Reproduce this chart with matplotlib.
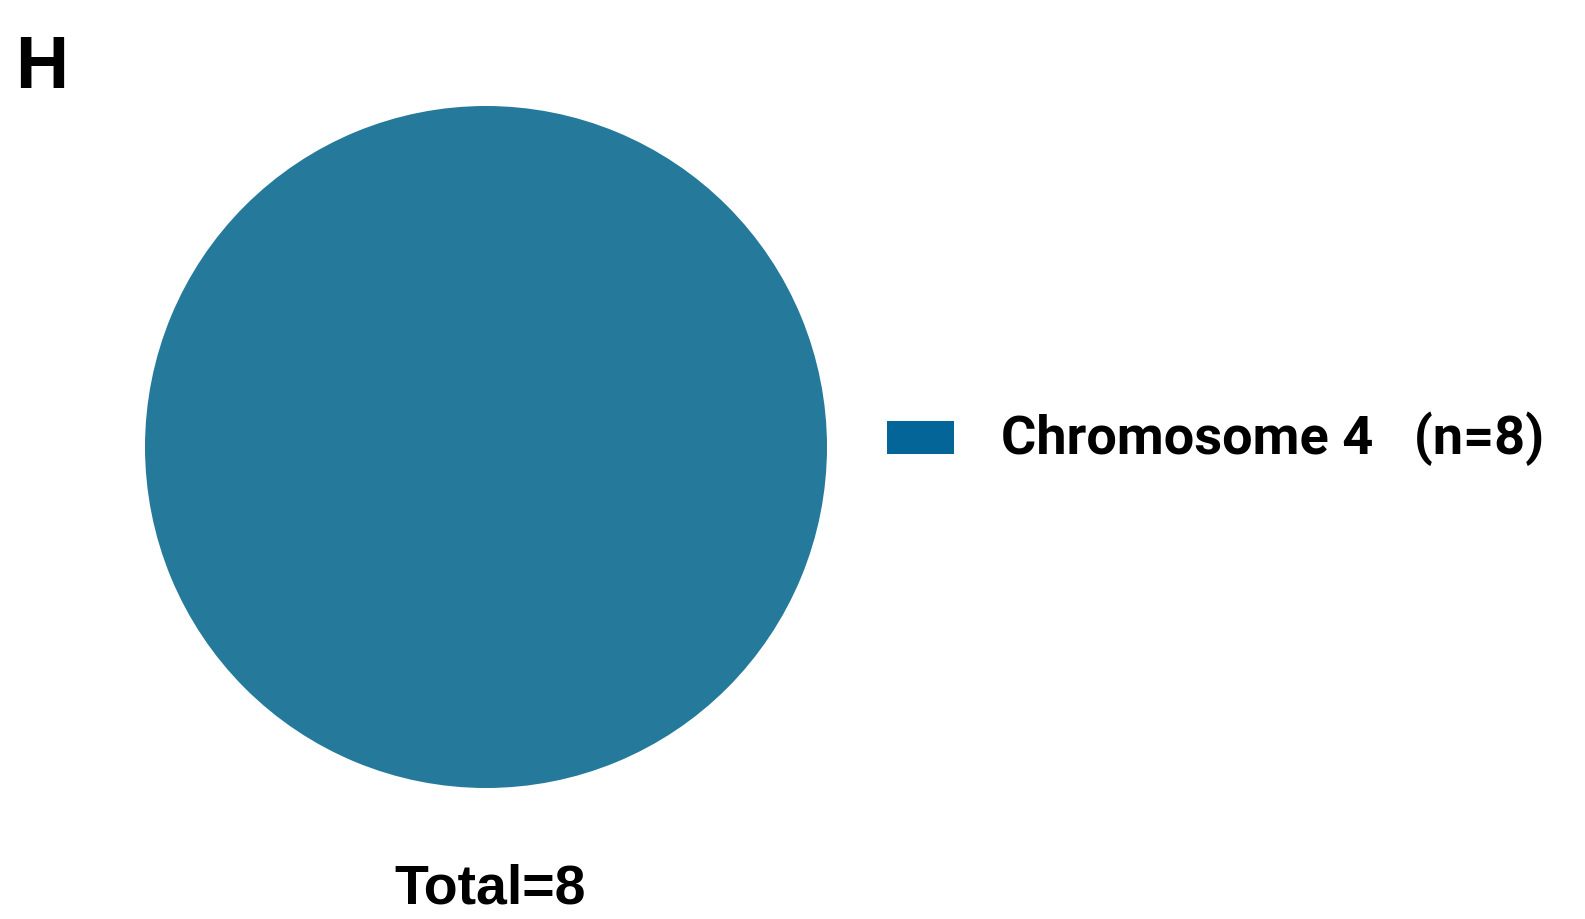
import matplotlib
matplotlib.use('Agg')
import matplotlib.pyplot as plt

# ── Data ─────────────────────────────────────────────────────
categories = ['Chromosome 4']
counts     = [8]
total      = sum(counts)
panel      = 'H'

PIE_COLOR    = '#25799a'
LEGEND_COLOR = '#036598'

plt.rcParams['font.family'] = ['Liberation Sans', 'DejaVu Sans']

W, H = 1585, 919
fig = plt.figure(figsize=(W / 100, H / 100), dpi=100)

# pie axes: centre (486, 447) px, radius 341 px
cx, cy, r = 486, 447, 341
ax = fig.add_axes([(cx - r) / W, (H - cy - r) / H, 2 * r / W, 2 * r / H])
wedges, _ = ax.pie(counts, colors=[PIE_COLOR], startangle=90, radius=1,
                   wedgeprops=dict(linewidth=0))
ax.set_xlim(-1, 1)
ax.set_ylim(-1, 1)

# legend text is a little condensed in the original -> Roboto bold
fs = 39
px = fs * 100 / 72
labels = [f'{c}   (n={n})' for c, n in zip(categories, counts)]
leg = fig.legend(wedges, labels, loc='center left',
                 bbox_to_anchor=(887 / W, (H - 439) / H),
                 frameon=False, borderpad=0, borderaxespad=0,
                 handlelength=67 / px, handleheight=31 / px,
                 handletextpad=47 / px,
                 prop=dict(family=['Roboto', 'Liberation Sans'], weight='bold', size=fs))
for h in leg.legend_handles:
    h.set_facecolor(LEGEND_COLOR)
    h.set_edgecolor('none')
    h.set_y(h.get_y() - 2.5 * 72 / 100)   # nudge swatch down a touch

fig.text(490 / W, 16 / H, f'Total={total}', ha='center', va='baseline',
         fontsize=40, fontweight='bold')
fig.text(15 / W, (H - 34) / H, panel, ha='left', va='top',
         fontsize=53, fontweight='bold')

fig.savefig('out.png', dpi=100)
